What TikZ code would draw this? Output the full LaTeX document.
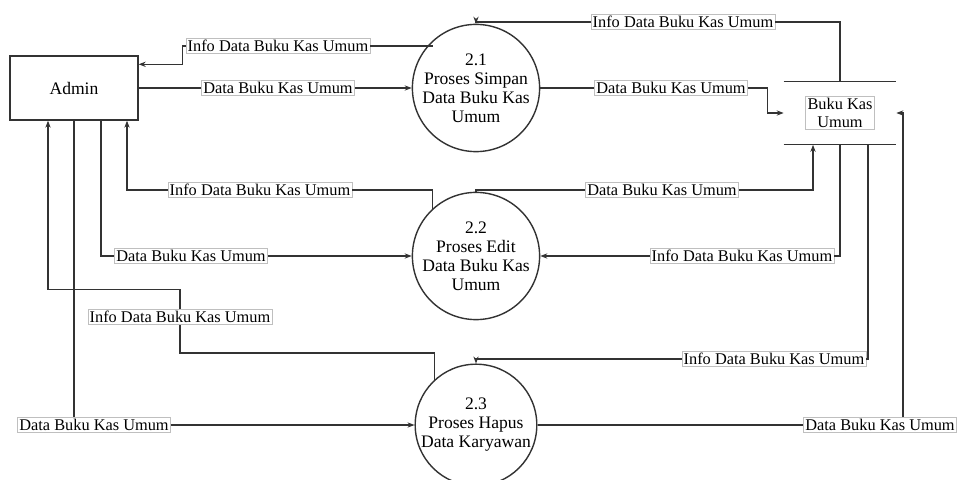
\documentclass[tikz,border=0pt]{standalone}
\usepackage{fontspec}
\setmainfont{Liberation Serif}
\usetikzlibrary{arrows.meta}

\tikzset{
  entitas/.style={draw=black!80, line width=0.8pt, minimum width=2.56cm, minimum height=1.28cm,
    font=\fontsize{10}{12}\selectfont},
  proses/.style={circle, draw=black!80, line width=0.8pt, minimum size=2.28cm, inner sep=0pt,
    align=center, font=\fontsize{10}{10.8}\selectfont},
  simpan/.style={minimum width=2.24cm, minimum height=1.26cm, inner sep=0pt},
  lbl/.style={draw=black!25, fill=white, inner sep=1pt, align=center,
    font=\fontsize{9.3}{10}\selectfont},
  flow/.style={draw=black!80, line width=0.6pt},
}

\begin{document}
\begin{tikzpicture}[x=0.02cm, y=-0.02cm, >={Stealth[length=4pt,width=3pt]}]
  \useasboundingbox (0,0) rectangle (958,480);

  % entitas, proses dan data store
  \node[entitas] (admin) at (74,88) {Admin};
  \node[proses] (p1) at (476,88) {2.1\\Proses Simpan\\Data Buku Kas\\Umum};
  \node[proses] (p2) at (476,256) {2.2\\Proses Edit\\Data Buku Kas\\Umum};
  \node[proses] (p3) at (476,425) {2.3\\Proses Hapus\\Data Karyawan};
  \node[simpan] (store) at (840,113) {};
  \node[lbl] (storetxt) at (store) {Buku Kas\\Umum};
  \draw[flow] (store.north west) -- (store.north east);
  \draw[flow] (store.south west) -- (store.south east);

  % label aliran data
  \node[lbl] (l1) at (278,46) {Info Data Buku Kas Umum};
  \node[lbl] (l2) at (278,88) {Data Buku Kas Umum};
  \node[lbl] (l3) at (683,22) {Info Data Buku Kas Umum};
  \node[lbl] (l4) at (671,88) {Data Buku Kas Umum};
  \node[lbl] (l5) at (260,190) {Info Data Buku Kas Umum};
  \node[lbl] (l6) at (191,256) {Data Buku Kas Umum};
  \node[lbl] (l7) at (180,317) {Info Data Buku Kas Umum};
  \node[lbl] (l8) at (94,425) {Data Buku Kas Umum};
  \node[lbl] (l9) at (662,190) {Data Buku Kas Umum};
  \node[lbl] (l10) at (742,256) {Info Data Buku Kas Umum};
  \node[lbl] (l11) at (774,359) {Info Data Buku Kas Umum};
  \node[lbl] (l12) at (880,425) {Data Buku Kas Umum};

  % 2.1
  \draw[flow] (l1.east -| p1.132) -- (l1.east);
  \draw[flow,->] (l1.west) -- ++(-3,0) |- ([yshift=-1.8mm]admin.north east);
  \draw[flow] (admin.east) -- (l2.west);
  \draw[flow,->] (l2.east) -- (p1.west);
  \draw[flow] (store.north) |- (l3.east);
  \draw[flow,->] (l3.west) -| (p1.north);
  \draw[flow] (p1.east) -- (l4.west);
  \draw[flow,->] (l4.east) -- ++(20,0) |- (store.west);

  % 2.2
  \draw[flow] (p2.133) |- (l5.east);
  \draw[flow,->] (l5.west) -| ([xshift=1.06cm]admin.south);
  \draw[flow] ([xshift=0.54cm]admin.south) |- (l6.west);
  \draw[flow,->] (l6.east) -- (p2.west);
  \draw[flow] (p2.north) |- (l9.west);
  \draw[flow,->] (l9.east) -| ([xshift=-0.54cm]store.south);
  \draw[flow] (store.south) |- (l10.east);
  \draw[flow,->] (l10.west) -- (p2.east);

  % 2.3
  \draw[flow] (p3.133) -- ++(0,-27) -| (l7.south);
  \draw[flow,->] (l7.north) -- ++(0,-20) -| ([xshift=-0.52cm]admin.south);
  \draw[flow] (admin.south) -- (admin.south |- l8.north);
  \draw[flow,->] (l8.east) -- (p3.west);
  \draw[flow] ([xshift=0.56cm]store.south) |- (l11.east);
  \draw[flow,->] (l11.west) -| (p3.north);
  \draw[flow] (p3.east) -- (l12.west);
  \draw[flow,->] ([xshift=0.46cm]l12.north) |- (store.east);
\end{tikzpicture}
\end{document}
